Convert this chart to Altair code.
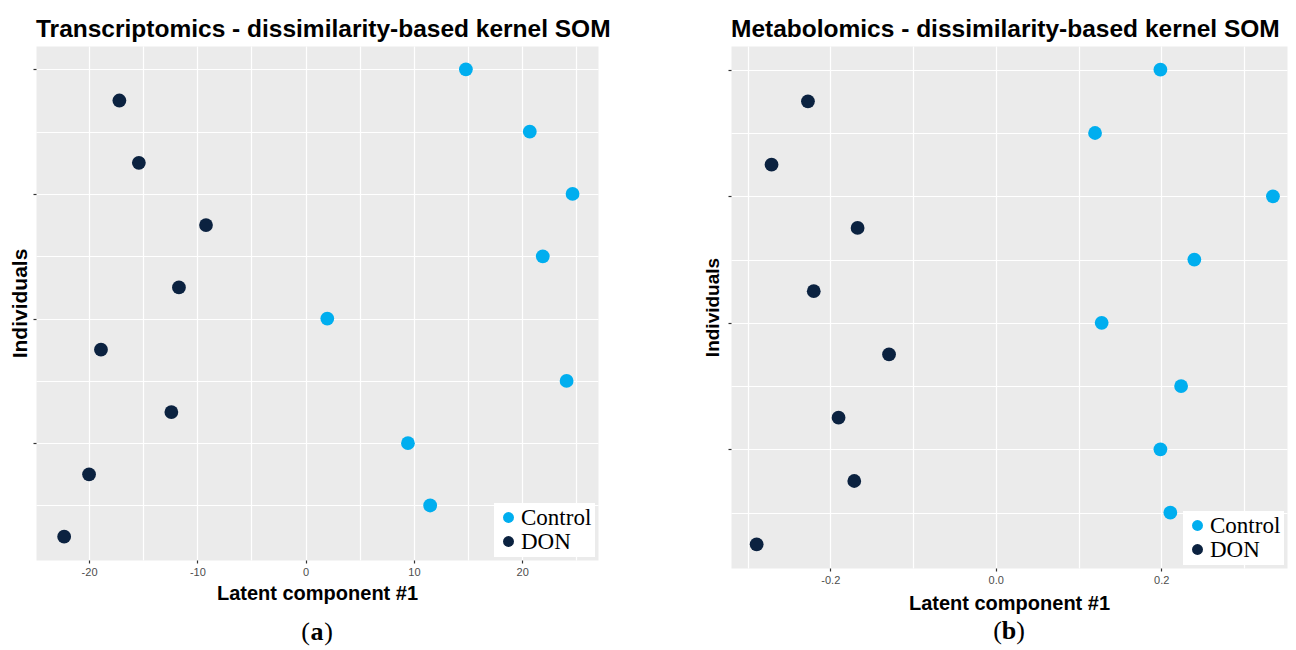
import altair as alt
import pandas as pd

# ---------------- data ----------------
individuals = list(range(16, 0, -1))
groups = ["Control", "DON"] * 8
trans_lc1 = [14.8, -17.2, 20.7, -15.4, 24.65, -9.2, 21.9, -11.7,
             2.0, -18.9, 24.1, -12.4, 9.45, -20.0, 11.5, -22.3]
metab_lc1 = [0.199, -0.227, 0.120, -0.271, 0.335, -0.167, 0.240, -0.220,
             0.128, -0.129, 0.224, -0.190, 0.199, -0.171, 0.211, -0.289]

group_names = ["Control", "DON"]
group_colors = ["#00AEEF", "#0B2240"]

panel_titles = ["Transcriptomics - dissimilarity-based kernel SOM",
                "Metabolomics - dissimilarity-based kernel SOM"]
x_title = "Latent component #1"
y_title = "Individuals"
captions = ["a", "b"]

y_ticks = [2, 4, 6, 8, 10, 12, 14, 16]
trans_ticks = [-25, -20, -15, -10, -5, 0, 5, 10, 15, 20, 25]
metab_ticks = [-0.3, -0.2, -0.1, 0.0, 0.1, 0.2, 0.3]


def panel(values, title, ticks, major_test, label_expr, domain, width, height,
          ytitle_size, ytitle_pad, xtitle_pad, caption, cap_gap):
    df = pd.DataFrame({"Individual": individuals, "Group": groups, "LC1": values})
    legend = alt.Legend(title=None, orient="bottom-right", offset=3,
                        fillColor="white", padding=3,
                        labelFont="Liberation Serif", labelFontSize=23,
                        labelColor="black", symbolType="circle",
                        symbolSize=120, symbolStrokeWidth=0, symbolOpacity=1,
                        labelOffset=1, rowPadding=0)
    pts = alt.Chart(df).mark_circle(size=190, opacity=1).encode(
        x=alt.X("LC1:Q",
                scale=alt.Scale(domain=domain, nice=False, zero=False),
                axis=alt.Axis(values=ticks, labelExpr=label_expr,
                              tickOpacity={"condition": {"test": major_test, "value": 1}, "value": 0},
                              title=x_title, titleFontSize=20, titlePadding=xtitle_pad,
                              labelPadding=3)),
        y=alt.Y("Individual:Q",
                scale=alt.Scale(domain=[0.25, 16.75], nice=False, zero=False),
                axis=alt.Axis(values=y_ticks, labels=False,
                              tickOpacity={"condition": {"test": "datum.value % 4 === 0", "value": 1}, "value": 0},
                              title=y_title, titleFontSize=ytitle_size, titlePadding=ytitle_pad)),
        color=alt.Color("Group:N",
                        scale=alt.Scale(domain=group_names, range=group_colors),
                        legend=legend),
    )
    cap_df = pd.DataFrame({"t": [caption]})
    cap_y = height + cap_gap
    cap_mid = alt.Chart(cap_df).mark_text(font="Liberation Serif", fontSize=26,
                                          fontWeight="bold", color="black",
                                          baseline="middle").encode(
        text="t:N", x=alt.value(width / 2), y=alt.value(cap_y))
    cap_l = alt.Chart(cap_df).mark_text(font="Liberation Serif", fontSize=26,
                                        color="black", baseline="middle",
                                        text="(", dx=-11.5).encode(
        x=alt.value(width / 2), y=alt.value(cap_y))
    cap_r = alt.Chart(cap_df).mark_text(font="Liberation Serif", fontSize=26,
                                        color="black", baseline="middle",
                                        text=")", dx=11.5).encode(
        x=alt.value(width / 2), y=alt.value(cap_y))
    return alt.layer(pts, cap_mid, cap_l, cap_r).properties(
        width=width, height=height,
        title=alt.TitleParams(title, anchor="start", frame="group",
                              font="Liberation Sans", fontSize=24.5,
                              fontWeight="bold", color="black", offset=4))


pa = panel(trans_lc1, panel_titles[0], trans_ticks, "datum.value % 10 === 0",
           "datum.value % 10 === 0 ? ((datum.value < 0 ? '-' : '') + abs(datum.value)) : ''",
           [-24.9, 27.0], 562, 514, 21, 2, 6, captions[0], 72)
pb = panel(metab_lc1, panel_titles[1], metab_ticks,
           "abs(round(datum.value * 10)) % 2 === 0",
           "abs(round(datum.value * 10)) % 2 === 0 ? ((datum.value < -0.01 ? '-' : '') + format(abs(datum.value), '.1f')) : ''",
           [-0.320, 0.352], 556, 522, 19, 5, 8, captions[1], 63)

chart = alt.hconcat(pa, pb, spacing=90).resolve_scale(
    x="independent", y="independent", color="independent"
).configure(padding={"left": 0, "top": 8, "right": 0, "bottom": 0}
).configure_view(fill="#EBEBEB", stroke="transparent"
).configure_axis(domain=False, grid=True, gridColor="white", gridWidth=1.2,
                 tickColor="#333333", tickSize=3, tickWidth=1.2,
                 labelColor="#4D4D4D", labelFont="Liberation Sans",
                 labelFontSize=11, titleFont="Liberation Sans",
                 titleFontWeight="bold", titleColor="black")

chart.save("out.html", embed_options={"renderer": "svg", "actions": False})
